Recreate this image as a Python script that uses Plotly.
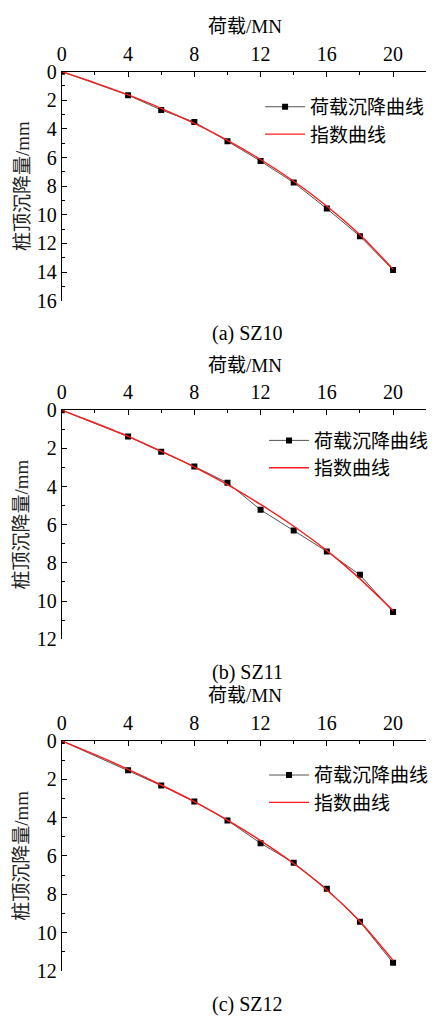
import plotly.graph_objects as go

# Load steps (MN) for the static load tests
load = [0, 4, 6, 8, 10, 12, 14, 16, 18, 20]
# Measured pile-top settlement (mm)
settle_sz10 = [0, 1.64, 2.68, 3.52, 4.86, 6.25, 7.75, 9.57, 11.5, 13.86]
settle_sz11 = [0, 1.38, 2.18, 2.95, 3.80, 5.22, 6.31, 7.40, 8.63, 10.57]
settle_sz12 = [0, 1.53, 2.33, 3.16, 4.15, 5.34, 6.36, 7.72, 9.44, 11.58]

# Exponential fitted curves, sampled every 2 MN
fit_load = [0, 2, 4, 6, 8, 10, 12, 14, 16, 18, 20]
fit_sz10 = [0, 0.78, 1.62, 2.56, 3.62, 4.80, 6.14, 7.66, 9.40, 11.40, 13.80]
fit_sz11 = [0, 0.67, 1.37, 2.15, 2.98, 3.90, 4.94, 6.08, 7.36, 8.84, 10.50]
fit_sz12 = [0, 0.72, 1.48, 2.30, 3.17, 4.13, 5.20, 6.40, 7.78, 9.42, 11.45]

captions = ["(a) SZ10", "(b) SZ11", "(c) SZ12"]
y_max = [16, 12, 12]
name_meas = "荷载沉降曲线"
name_fit = "指数曲线"
x_title = "荷载/MN"
y_title = "桩顶沉降量/mm"

W, H = 442, 1021
SERIF = "Liberation Serif"
MIXED = "Liberation Serif, Noto Sans CJK SC"
CJK = "Noto Sans CJK SC"

x_px = (57.5, 426.0)
panels_px = [(62, 296), (408, 642), (746, 981)]  # (top, bottom) of plot areas
# legend anchor: left x, centre y of the two rows
legend_px = [(258, 98, 126), (262, 439, 467), (262, 781, 809)]

def px2x(v):
    return v / W

def px2y(v):
    return 1 - v / H

fig = go.Figure()
annotations = []
meas = [settle_sz10, settle_sz11, settle_sz12]
fits = [fit_sz10, fit_sz11, fit_sz12]

for i in range(3):
    n = "" if i == 0 else str(i + 1)
    xa, ya = "x" + n, "y" + n
    leg_a = "legend" + ("" if i == 0 else str(2 * i + 1))
    leg_b = "legend" + str(2 * i + 2)
    top, bot = panels_px[i]

    fig.add_trace(go.Scatter(
        x=load, y=meas[i], mode="lines+markers", name=name_meas,
        line=dict(color="#404040", width=0.9),
        marker=dict(symbol="square", size=6, color="black"),
        xaxis=xa, yaxis=ya, legend=leg_a))
    fig.add_trace(go.Scatter(
        x=fit_load, y=fits[i], mode="lines", name=name_fit,
        line=dict(color="#ff1a1a", width=1.4, shape="spline", smoothing=0.6),
        xaxis=xa, yaxis=ya, legend=leg_b))

    xkey = "xaxis" + n
    ykey = "yaxis" + n
    fig.layout[xkey] = dict(
        domain=[px2x(x_px[0]), px2x(x_px[1])], anchor=ya, side="top",
        range=[0, 22], tickvals=[0, 4, 8, 12, 16, 20],
        ticks="inside", ticklen=5, tickwidth=1, tickcolor="black",
        minor=dict(tickvals=[2, 6, 10, 14, 18, 22], ticks="inside",
                   ticklen=3, tickcolor="black"),
        showline=True, linecolor="black", linewidth=1, showgrid=False,
        zeroline=False, tickfont=dict(family=SERIF, size=20, color="black"),
        ticklabelstandoff=2)
    fig.layout[ykey] = dict(
        domain=[px2y(bot), px2y(top)], anchor=xa,
        range=[y_max[i], 0], dtick=2,
        ticks="inside", ticklen=5, tickwidth=1, tickcolor="black",
        minor=dict(dtick=1, ticks="inside", ticklen=3, tickcolor="black"),
        showline=True, linecolor="black", linewidth=1, showgrid=False,
        zeroline=False, tickfont=dict(family=SERIF, size=20, color="black"))

    lx, ly1, ly2 = legend_px[i]
    for key, ly in ((leg_a, ly1), (leg_b, ly2)):
        fig.layout[key] = dict(
            x=px2x(lx), y=px2y(ly), xanchor="left", yanchor="middle",
            bgcolor="rgba(0,0,0,0)", borderwidth=0,
            font=dict(family=CJK, size=19, color="black"), itemwidth=40)

    annotations.append(dict(
        x=px2x(243), y=px2y(top - 46), xref="paper", yref="paper",
        text=x_title, showarrow=False, xanchor="center", yanchor="middle",
        font=dict(family=MIXED, size=19, color="black")))
    annotations.append(dict(
        x=px2x(17), y=px2y((top + bot) / 2), xref="paper", yref="paper",
        text=y_title, showarrow=False, textangle=-90,
        xanchor="center", yanchor="middle",
        font=dict(family=MIXED, size=19, color="#222")))
    annotations.append(dict(
        x=px2x(245), y=px2y(bot + 34), xref="paper", yref="paper",
        text=captions[i], showarrow=False, xanchor="center", yanchor="middle",
        font=dict(family=SERIF, size=20, color="black")))

fig.update_layout(
    width=W, height=H, margin=dict(l=0, r=0, t=0, b=0),
    paper_bgcolor="white", plot_bgcolor="white",
    annotations=annotations, showlegend=True)

fig.write_html("out.html")
